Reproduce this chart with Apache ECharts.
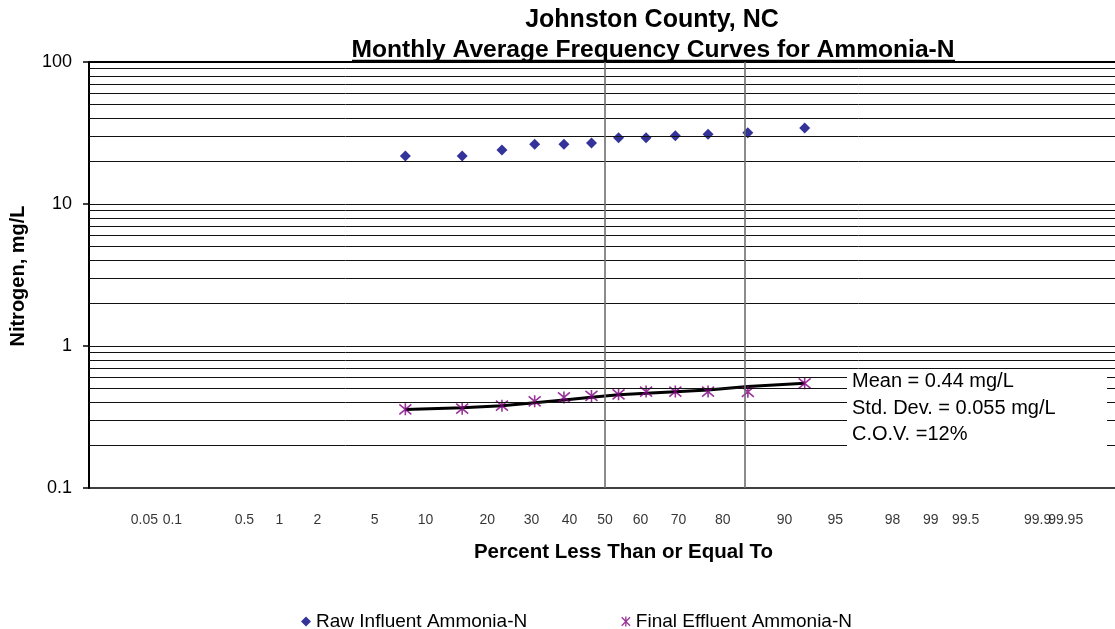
<!DOCTYPE html>
<html>
<head>
<meta charset="utf-8">
<script src="https://cdn.jsdelivr.net/npm/echarts@6/dist/echarts.min.js"></script>
<style>
html,body{margin:0;padding:0;background:#fff;}
#chart{width:1115px;height:629px;}
</style>
</head>
<body>
<div id="chart"></div>
<script>
// ---------------- data ----------------
const plotPercent = [7.69, 15.38, 23.08, 30.77, 38.46, 46.15, 53.85, 61.54, 69.23, 76.92, 84.62, 92.31];
const rawInfluent = [21.8, 21.8, 24.0, 26.3, 26.3, 26.9, 29.3, 29.3, 30.3, 31.0, 31.8, 34.3];
const finalEffluent = [0.358, 0.362, 0.380, 0.408, 0.434, 0.445, 0.457, 0.478, 0.478, 0.478, 0.476, 0.546];
const effluentFit = [0.357, 0.368, 0.380, 0.399, 0.417, 0.435, 0.454, 0.464, 0.477, 0.490, 0.519, 0.546];
const xTickPercents = [0.05, 0.1, 0.5, 1, 2, 5, 10, 20, 30, 40, 50, 60, 70, 80, 90, 95, 98, 99, 99.5, 99.9, 99.95];
const xTickLabels = ['0.05', '0.1', '0.5', '1', '2', '5', '10', '20', '30', '40', '50', '60', '70', '80', '90', '95', '98', '99', '99.5', '99.9', '99.95'];
const yGridValues = [0.2, 0.3, 0.4, 0.5, 0.6, 0.7, 0.8, 0.9, 1, 2, 3, 4, 5, 6, 7, 8, 9, 10, 20, 30, 40, 50, 60, 70, 80, 90];
const refPercents = [50, 84.13];
const statsLines = ['Mean = 0.44 mg/L', 'Std. Dev. = 0.055 mg/L', 'C.O.V. =12%'];
const titleLines = ['Johnston County, NC', 'Monthly Average Frequency Curves for Ammonia-N'];
const seriesNames = ['Raw Influent Ammonia-N', 'Final Effluent Ammonia-N'];

// normal-probability scale (inverse normal CDF, Acklam)
function probit(p) {
  const a = [-3.969683028665376e+01, 2.209460984245205e+02, -2.759285104469687e+02, 1.383577518672690e+02, -3.066479806614716e+01, 2.506628277459239e+00];
  const b = [-5.447609879822406e+01, 1.615858368580409e+02, -1.556989798598866e+02, 6.680131188771972e+01, -1.328068155288572e+01];
  const c = [-7.784894002430293e-03, -3.223964580411365e-01, -2.400758277161838e+00, -2.549671750640870e+00, 4.374664141464968e+00, 2.938163982698783e+00];
  const d = [7.784695709041462e-03, 3.224671290700398e-01, 2.445134137142996e+00, 3.754408661907416e+00];
  const pl = 0.02425, ph = 1 - pl;
  let q, r;
  if (p < pl) {
    q = Math.sqrt(-2 * Math.log(p));
    return (((((c[0]*q+c[1])*q+c[2])*q+c[3])*q+c[4])*q+c[5]) / ((((d[0]*q+d[1])*q+d[2])*q+d[3])*q+1);
  }
  if (p <= ph) {
    q = p - 0.5; r = q * q;
    return (((((a[0]*r+a[1])*r+a[2])*r+a[3])*r+a[4])*r+a[5])*q / (((((b[0]*r+b[1])*r+b[2])*r+b[3])*r+b[4])*r+1);
  }
  q = Math.sqrt(-2 * Math.log(1 - p));
  return -(((((c[0]*q+c[1])*q+c[2])*q+c[3])*q+c[4])*q+c[5]) / ((((d[0]*q+d[1])*q+d[2])*q+d[3])*q+1);
}
const pz = v => probit(v / 100);

const FONT = "'Liberation Sans', Arial, sans-serif";
const Y_MIN = 0.1;
const xTickZ = xTickPercents.map(pz);
const rawData = plotPercent.map((p, i) => [pz(p), rawInfluent[i]]);
const effData = plotPercent.map((p, i) => [pz(p), finalEffluent[i]]);
const fitData = plotPercent.map((p, i) => [pz(p), effluentFit[i]]);
const tickLabelData = xTickZ.map((z, i) => ({ value: [z, Y_MIN], name: xTickLabels[i] }));

const gridMarks = yGridValues.map(v => ({ yAxis: v }));
gridMarks.push({ yAxis: 100, lineStyle: { width: 2, color: '#000' } });
const refMarks = refPercents.map(p => ({ xAxis: pz(p) }));

const STAR = 'path://M0,0L10,10M10,0L0,10M5,-1L5,11';

const chart = echarts.init(document.getElementById('chart'), null, { renderer: 'canvas' });
chart.setOption({
  animation: false,
  backgroundColor: '#fff',
  textStyle: { fontFamily: FONT },
  grid: { left: 89, top: 62, width: 1026, height: 426, containLabel: false },
  xAxis: {
    type: 'value', min: -3.686, max: 3.643,
    axisLine: { show: true, onZero: false, lineStyle: { color: '#000', width: 1.5 } },
    axisTick: { show: false },
    splitLine: { show: false },
    axisLabel: { show: false }
  },
  yAxis: {
    type: 'log', logBase: 10, min: Y_MIN, max: 100,
    axisLine: { show: true, onZero: false, lineStyle: { color: '#000', width: 2 } },
    axisTick: { show: true, inside: false, length: 6, lineStyle: { color: '#000', width: 1.5 } },
    splitLine: { show: false },
    axisLabel: { fontSize: 18, color: '#000', margin: 17, fontFamily: FONT, formatter: v => String(v) }
  },
  legend: {
    data: [
      { name: seriesNames[0], icon: 'diamond' },
      { name: seriesNames[1], icon: STAR, itemStyle: { color: 'none', borderColor: '#800080', borderWidth: 1.3 } }
    ],
    left: 296, top: 607, itemWidth: 10, itemHeight: 10, itemGap: 92,
    textStyle: { fontSize: 19, color: '#000', fontFamily: FONT }
  },
  series: [
    {
      name: 'grid', type: 'line', data: [], silent: true, z: 1,
      markLine: {
        silent: true, symbol: ['none', 'none'], label: { show: false }, animation: false,
        lineStyle: { type: 'solid', color: '#111', width: 1 },
        data: gridMarks
      }
    },
    {
      name: 'ref', type: 'line', data: [], silent: true, z: 1,
      markLine: {
        silent: true, symbol: ['none', 'none'], label: { show: false }, animation: false,
        lineStyle: { type: 'solid', color: '#6e6e6e', width: 1.6 },
        data: refMarks
      }
    },
    {
      name: 'xTicks', type: 'scatter', data: tickLabelData, symbol: 'circle', symbolSize: 1, silent: true, z: 5, clip: false,
      itemStyle: { color: 'rgba(0,0,0,0)' },
      label: { show: true, position: 'bottom', distance: 25, formatter: '{b}', fontSize: 14, color: '#000', fontFamily: FONT }
    },
    {
      name: 'fit', type: 'line', data: fitData, symbol: 'none', z: 3,
      lineStyle: { color: '#000', width: 3 }
    },
    {
      name: seriesNames[0], type: 'scatter', data: rawData, symbol: 'diamond', symbolSize: 11, z: 4,
      itemStyle: { color: '#000080' }
    },
    {
      name: seriesNames[1], type: 'scatter', data: effData, symbol: STAR, symbolSize: 12, z: 4,
      itemStyle: { color: 'none', borderColor: '#800080', borderWidth: 1.6 }
    }
  ],
  graphic: [
    { type: 'text', x: 652, y: 20, z: 50, style: { text: titleLines[0], font: "bold 25px 'Liberation Sans', Arial, sans-serif", fill: '#000', align: 'center', verticalAlign: 'middle' } },
    { type: 'text', x: 653, y: 50, z: 50, style: { text: titleLines[1], font: "bold 24.6px 'Liberation Sans', Arial, sans-serif", fill: '#000', align: 'center', verticalAlign: 'middle' } },
    { type: 'line', z: 50, shape: { x1: 352, y1: 60.5, x2: 955, y2: 60.5 }, style: { stroke: '#000', lineWidth: 1.5 } },
    { type: 'text', x: 623.5, y: 552, z: 50, style: { text: 'Percent Less Than or Equal To', font: "bold 20.5px 'Liberation Sans', Arial, sans-serif", fill: '#000', align: 'center', verticalAlign: 'middle' } },
    { type: 'text', x: 18, y: 276, z: 50, rotation: Math.PI / 2, style: { text: 'Nitrogen, mg/L', font: "bold 20px 'Liberation Sans', Arial, sans-serif", fill: '#000', align: 'center', verticalAlign: 'middle' } },
    { type: 'rect', z: 40, shape: { x: 847, y: 371, width: 260, height: 81 }, style: { fill: '#fff', stroke: null } },
    { type: 'text', x: 852, y: 381, z: 50, style: { text: statsLines[0], font: "20px 'Liberation Sans', Arial, sans-serif", fill: '#000', align: 'left', verticalAlign: 'middle' } },
    { type: 'text', x: 852, y: 408, z: 50, style: { text: statsLines[1], font: "20px 'Liberation Sans', Arial, sans-serif", fill: '#000', align: 'left', verticalAlign: 'middle' } },
    { type: 'text', x: 852, y: 434, z: 50, style: { text: statsLines[2], font: "20px 'Liberation Sans', Arial, sans-serif", fill: '#000', align: 'left', verticalAlign: 'middle' } }
  ]
});
</script>
</body>
</html>
